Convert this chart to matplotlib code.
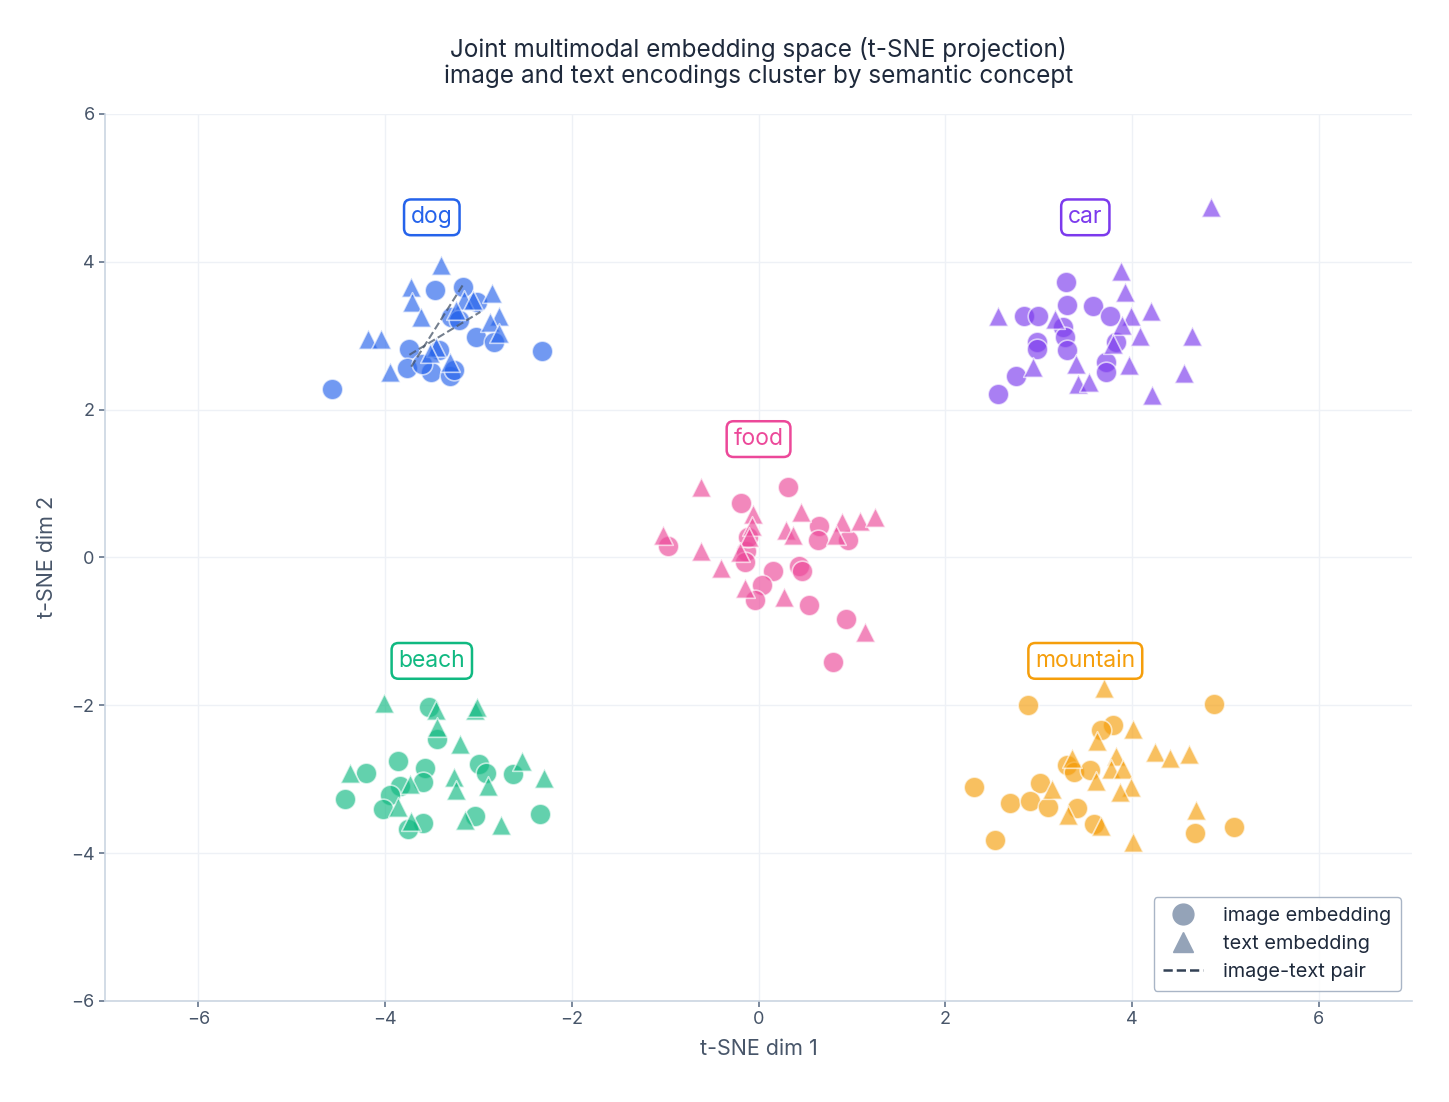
import numpy as np
import matplotlib.pyplot as plt
from matplotlib.lines import Line2D

plt.rcParams['font.family'] = ['Inter', 'DejaVu Sans']

# concept names, colors and label positions
concepts = ["dog", "car", "food", "beach", "mountain"]
colors = ["#2563eb", "#7c3aed", "#ec4899", "#10b981", "#f59e0b"]
label_pos = [(-3.5, 4.6), (3.5, 4.6), (0.0, 1.6), (-3.5, -1.4), (3.5, -1.4)]

# image embeddings (circles)
dog_img_x = [-4.57, -3.47, -3.17, -3.29, -3.21, -3.03, -2.83, -2.32, -3.74, -3.77, -3.51, -3.31, -3.26, -3.42, -3.60, -3.02]
dog_img_y = [2.28, 3.62, 3.66, 3.25, 3.21, 2.98, 2.91, 2.79, 2.82, 2.56, 2.51, 2.46, 2.53, 2.80, 2.62, 3.45]
car_img_x = [3.29, 3.30, 3.58, 2.84, 2.99, 3.76, 3.26, 3.28, 2.98, 2.98, 3.30, 3.83, 3.72, 3.72, 2.76, 2.57]
car_img_y = [3.73, 3.42, 3.40, 3.27, 3.27, 3.26, 3.12, 2.98, 2.91, 2.82, 2.80, 2.91, 2.64, 2.51, 2.46, 2.21]
food_img_x = [0.32, -0.19, -0.97, -0.13, -0.15, 0.65, 0.64, 0.96, 0.43, 0.47, 0.16, 0.04, -0.04, 0.54, 0.94, 0.80, -0.11]
food_img_y = [0.95, 0.73, 0.16, 0.09, -0.06, 0.43, 0.23, 0.23, -0.11, -0.18, -0.19, -0.38, -0.58, -0.64, -0.84, -1.42, 0.27]
beach_img_x = [-3.53, -3.44, -3.86, -4.21, -4.43, -3.57, -3.59, -3.84, -3.95, -4.02, -2.99, -2.92, -2.63, -2.34, -3.04, -3.59, -3.76]
beach_img_y = [-2.03, -2.45, -2.76, -2.92, -3.27, -2.85, -3.04, -3.09, -3.22, -3.41, -2.80, -2.92, -2.93, -3.47, -3.50, -3.59, -3.67]
mountain_img_x = [2.89, 4.88, 3.80, 3.67, 3.30, 3.38, 3.55, 3.01, 2.31, 2.69, 2.91, 3.10, 3.41, 3.59, 2.53, 4.67, 5.09]
mountain_img_y = [-1.99, -1.98, -2.27, -2.34, -2.81, -2.90, -2.88, -3.05, -3.10, -3.32, -3.30, -3.38, -3.39, -3.60, -3.82, -3.73, -3.65]

# text embeddings (triangles)
dog_txt_x = [-3.40, -3.72, -3.71, -3.62, -4.18, -4.04, -3.95, -3.45, -3.52, -3.31, -3.15, -3.06, -2.86, -2.78, -2.88, -2.78, -3.24]
dog_txt_y = [3.95, 3.66, 3.45, 3.25, 2.95, 2.95, 2.51, 2.85, 2.76, 2.64, 3.48, 3.48, 3.57, 3.27, 3.18, 3.03, 3.34]
car_txt_x = [4.85, 3.88, 3.93, 2.57, 3.18, 3.99, 4.20, 3.89, 4.09, 4.64, 3.80, 2.94, 3.40, 3.97, 4.56, 3.42, 3.54, 4.21]
car_txt_y = [4.74, 3.88, 3.59, 3.27, 3.23, 3.26, 3.33, 3.14, 3.00, 3.00, 2.89, 2.58, 2.62, 2.60, 2.49, 2.34, 2.37, 2.19]
food_txt_x = [-0.62, -1.02, -0.06, -0.07, -0.10, -0.20, -0.62, -0.40, -0.14, 0.27, 0.46, 0.29, 0.37, 0.89, 1.09, 1.25, 0.83, 1.14]
food_txt_y = [0.95, 0.30, 0.59, 0.43, 0.27, 0.07, 0.09, -0.15, -0.42, -0.54, 0.61, 0.37, 0.30, 0.48, 0.49, 0.55, 0.30, -1.01]
beach_txt_x = [-4.01, -3.45, -3.04, -3.02, -3.44, -3.20, -4.38, -3.73, -3.26, -3.24, -2.90, -2.53, -2.30, -3.86, -3.72, -3.14, -2.76]
beach_txt_y = [-1.97, -2.07, -2.07, -2.03, -2.30, -2.52, -2.91, -3.07, -2.97, -3.14, -3.09, -2.76, -2.99, -3.38, -3.56, -3.55, -3.62]
mountain_txt_x = [3.70, 4.01, 3.62, 4.25, 4.41, 4.61, 3.36, 3.83, 3.78, 3.90, 3.61, 3.14, 3.99, 3.87, 4.69, 3.32, 3.67, 4.01]
mountain_txt_y = [-1.76, -2.32, -2.48, -2.63, -2.72, -2.66, -2.72, -2.68, -2.86, -2.86, -3.02, -3.13, -3.11, -3.18, -3.42, -3.49, -3.63, -3.85]

img_x = [dog_img_x, car_img_x, food_img_x, beach_img_x, mountain_img_x]
img_y = [dog_img_y, car_img_y, food_img_y, beach_img_y, mountain_img_y]
txt_x = [dog_txt_x, car_txt_x, food_txt_x, beach_txt_x, mountain_txt_x]
txt_y = [dog_txt_y, car_txt_y, food_txt_y, beach_txt_y, mountain_txt_y]

# image-text pairs drawn as dashed lines (image point -> text point)
pair_x0 = [-3.72, -3.74]
pair_y0 = [2.58, 2.74]
pair_x1 = [-3.17, -2.98]
pair_y1 = [3.68, 3.32]

fig = plt.figure(figsize=(14.49, 11.02), dpi=100)
ax = fig.add_axes([0.0725, 0.0917, 0.902, 0.805])

for i, c in enumerate(concepts):
    ax.scatter(img_x[i], img_y[i], s=220, marker="o", color=colors[i], alpha=0.65,
               edgecolor="white", linewidth=1.2, zorder=3)
    ax.scatter(txt_x[i], txt_y[i], s=200, marker="^", color=colors[i], alpha=0.65,
               edgecolor="white", linewidth=1.2, zorder=3)
    ax.text(label_pos[i][0], label_pos[i][1], c, color=colors[i], fontsize=16.5,
            ha="center", va="center", zorder=5,
            bbox=dict(boxstyle="round,pad=0.3", fc="white", ec=colors[i], lw=1.8))

for k in range(len(pair_x0)):
    ax.plot([pair_x0[k], pair_x1[k]], [pair_y0[k], pair_y1[k]], ls="--", color="#475569",
            lw=1.5, alpha=0.75, zorder=4)

ax.set_xlim(-7, 7)
ax.set_ylim(-6, 6)
ax.set_xticks([-6, -4, -2, 0, 2, 4, 6])
ax.set_yticks([-6, -4, -2, 0, 2, 4, 6])
ax.grid(True, color="#eef1f6", lw=1.0, zorder=0)
ax.set_axisbelow(True)
for s in ["top", "right"]:
    ax.spines[s].set_visible(False)
for s in ["left", "bottom"]:
    ax.spines[s].set_color("#cbd5e1")
    ax.spines[s].set_linewidth(1.2)
ax.tick_params(colors="#64748b", labelcolor="#475569", labelsize=13, length=4, width=1.2)

ax.set_xlabel("t-SNE dim 1", fontsize=15.5, color="#475569", labelpad=8)
ax.set_ylabel("t-SNE dim 2", fontsize=15.5, color="#475569", labelpad=10)
ax.set_title("Joint multimodal embedding space (t-SNE projection)\nimage and text encodings cluster by semantic concept",
             fontsize=17.5, color="#1e293b", pad=22, linespacing=1.15)

handles = [
    Line2D([], [], marker="o", ls="", color="#94a3b8", markersize=15, label="image embedding"),
    Line2D([], [], marker="^", ls="", color="#94a3b8", markersize=15, label="text embedding"),
    Line2D([], [], ls="--", color="#334155", lw=1.8, label="image-text pair"),
]
leg = ax.legend(handles=handles, loc="lower right", fontsize=14.3, frameon=True,
                fancybox=True, borderpad=0.5, labelspacing=0.5, handletextpad=1.0,
                borderaxespad=0, bbox_to_anchor=(0.9916, 0.0113))
leg.get_frame().set_edgecolor("#94a3b8")
leg.get_frame().set_linewidth(1.0)
for t in leg.get_texts():
    t.set_color("#1e293b")

fig.savefig("out.png", dpi=100)
